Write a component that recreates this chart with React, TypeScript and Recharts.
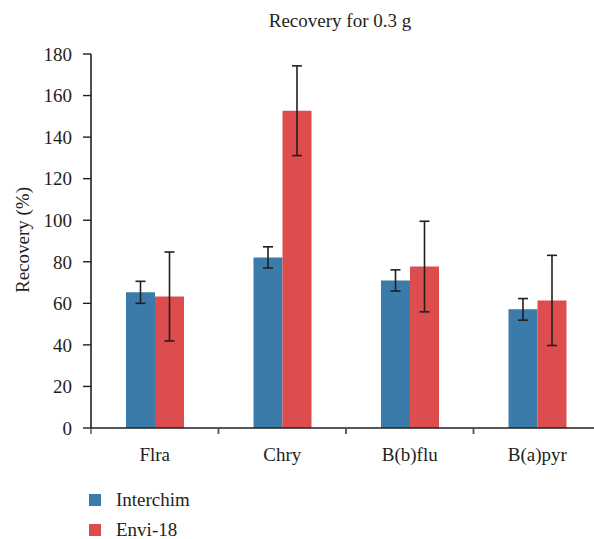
import { BarChart, Bar, XAxis, YAxis, ErrorBar, Legend, Label } from 'recharts';

const compounds = ['Flra', 'Chry', 'B(b)flu', 'B(a)pyr'];
const interchim = [65.3, 82.1, 71.0, 57.1];
const interchimErr = [5.3, 5.1, 5.1, 5.2];
const envi18 = [63.3, 152.7, 77.7, 61.4];
const envi18Err = [21.4, 21.6, 21.8, 21.7];
const yTicks = [0, 20, 40, 60, 80, 100, 120, 140, 160, 180];
const seriesOrder = ['interchim', 'envi18'];

const data = compounds.map((name, i) => ({
  name,
  interchim: interchim[i],
  interchimErr: interchimErr[i],
  envi18: envi18[i],
  envi18Err: envi18Err[i],
}));

const FONT = '"Liberation Serif", serif';
const INK = '#231f20';

// label in the middle of each band, tick marks on the band edges
function CategoryTick(props: any) {
  const { x, y, payload } = props;
  const half = payload?.offset ?? 63.75;
  return (
    <g>
      <line x1={x - half} x2={x - half} y1={y - 6} y2={y} stroke="#555" strokeWidth={1.5} />
      <line x1={x + half} x2={x + half} y1={y - 6} y2={y} stroke="#555" strokeWidth={1.5} />
      <text x={x} y={y + 27} textAnchor="middle" fill={INK} fontSize={19} fontFamily={FONT}>
        {payload.value}
      </text>
    </g>
  );
}

function LegendBox(props: any) {
  const items = props.payload ?? [];
  return (
    <div style={{ fontFamily: FONT, fontSize: 19, color: INK }}>
      {items.map((it: any) => (
        <div key={it.value} style={{ display: 'flex', alignItems: 'center', height: 30 }}>
          <span style={{ width: 12, height: 12, background: it.color, display: 'inline-block', marginRight: 15 }} />
          <span>{it.value}</span>
        </div>
      ))}
    </div>
  );
}

export default function App() {
  return (
    <div style={{ position: 'relative', width: 594, height: 539, overflow: 'hidden', background: '#fff', fontFamily: FONT }}>
      <style>{`body{margin:0;overflow:hidden}`}</style>
      <div
        style={{
          position: 'absolute',
          left: 0,
          width: 680,
          top: 10,
          textAlign: 'center',
          fontFamily: FONT,
          fontSize: 19,
          color: INK,
          zIndex: 1,
        }}
      >
        Recovery for 0.3 g
      </div>
      <BarChart
        width={602}
        height={539}
        data={data}
        margin={{ top: 54, right: 1, bottom: 81, left: 0 }}
        barCategoryGap={35}
        barGap={0}
        style={{ fontFamily: FONT }}
      >
        <XAxis
          dataKey="name"
          height={30}
          tickLine={false}
          tickSize={6}
          tickMargin={0}
          axisLine={{ stroke: INK, strokeWidth: 1.6 }}
          tick={<CategoryTick />}
          interval={0}
        />
        <YAxis
          width={91}
          domain={[0, 180]}
          ticks={yTicks}
          interval={0}
          tickSize={8}
          tickMargin={11}
          axisLine={{ stroke: INK, strokeWidth: 1.6 }}
          tickLine={{ stroke: INK, strokeWidth: 1.4 }}
          tick={{ fill: INK, fontSize: 19, fontFamily: FONT }}
        >
          <Label
            content={() => (
              <text
                x={22}
                y={240}
                transform="rotate(-90 22 240)"
                textAnchor="middle"
                dominantBaseline="central"
                fill={INK}
                fontSize={19}
                fontFamily={FONT}
              >
                Recovery (%)
              </text>
            )}
          />
        </YAxis>
        <Legend
          layout="vertical"
          align="center"
          verticalAlign="middle"
          itemSorter={(item: any) => seriesOrder.indexOf(item.dataKey)}
          wrapperStyle={{ left: 89, top: 485, width: 200 }}
          content={<LegendBox />}
        />
        <Bar dataKey="interchim" name="Interchim" fill="#3a7baa" isAnimationActive={false}>
          <ErrorBar dataKey="interchimErr" width={5} stroke={INK} strokeWidth={1.6} />
        </Bar>
        <Bar dataKey="envi18" name="Envi-18" fill="#dd4d4d" isAnimationActive={false}>
          <ErrorBar dataKey="envi18Err" width={5} stroke={INK} strokeWidth={1.6} />
        </Bar>
      </BarChart>
    </div>
  );
}
